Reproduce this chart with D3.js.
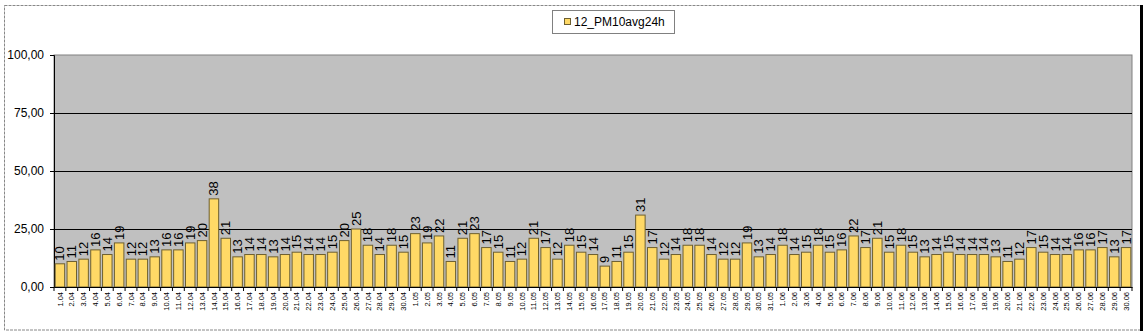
<!DOCTYPE html>
<html><head><meta charset="utf-8">
<script src="https://cdn.jsdelivr.net/npm/d3@7"></script>
<style>
html,body{margin:0;padding:0;background:#fff;}
svg{display:block;font-family:"Liberation Sans",Arial,sans-serif;}
</style></head>
<body><svg id="chart" width="1147" height="336"></svg>
<script>
const seriesName = "12_PM10avg24h";
const days = [
 "1.04","2.04","3.04","4.04","5.04","6.04","7.04","8.04","9.04","10.04","11.04","12.04","13.04","14.04","15.04","16.04","17.04","18.04","19.04","20.04","21.04","22.04","23.04","24.04","25.04","26.04","27.04","28.04","29.04","30.04",
 "1.05","2.05","3.05","4.05","5.05","6.05","7.05","8.05","9.05","10.05","11.05","12.05","13.05","14.05","15.05","16.05","17.05","18.05","19.05","20.05","21.05","22.05","23.05","24.05","25.05","26.05","27.05","28.05","29.05","30.05","31.05",
 "1.06","2.06","3.06","4.06","5.06","6.06","7.06","8.06","9.06","10.06","11.06","12.06","13.06","14.06","15.06","16.06","17.06","18.06","19.06","20.06","21.06","22.06","23.06","24.06","25.06","26.06","27.06","28.06","29.06","30.06"
];
const values = [
 10,11,12,16,14,19,12,12,13,16,16,19,20,38,21,13,14,14,13,14,15,14,14,15,20,25,18,14,18,15,
 23,19,22,11,21,23,17,15,11,12,21,17,12,18,15,14,9,11,15,31,17,12,14,18,18,14,12,12,19,13,14,
 18,14,15,18,15,16,22,17,21,15,18,15,13,14,15,14,14,14,13,11,12,17,15,14,14,16,16,17,13,17
];
const yTicks = [0,25,50,75,100];

const svg = d3.select("#chart");
const plot = {left:54, right:1132, top:55, bottom:287};

// outer frame
svg.append("rect").attr("x",4.5).attr("y",5.5).attr("width",1136).attr("height",324.5)
  .attr("fill","#fff").attr("stroke","#888").attr("stroke-dasharray","3,1").attr("stroke-width",1);
svg.append("line").attr("x1",1141.5).attr("x2",1141.5).attr("y1",5).attr("y2",331)
  .attr("stroke","#000").attr("stroke-width",3);

const x = d3.scaleBand().domain(days).range([plot.left, plot.right]).paddingInner(0.2).paddingOuter(0.1);
const y = d3.scaleLinear().domain([0,100]).range([plot.bottom, plot.top]);

// plot area
svg.append("rect").attr("x",plot.left).attr("y",plot.top).attr("width",plot.right-plot.left)
  .attr("height",plot.bottom-plot.top).attr("fill","#c0c0c0").attr("stroke","#808080");

// gridlines
svg.append("g").selectAll("line").data(yTicks.filter(d=>d>0 && d<100)).join("line")
  .attr("x1",plot.left).attr("x2",plot.right)
  .attr("y1",d=>Math.round(y(d))+0.5).attr("y2",d=>Math.round(y(d))+0.5)
  .attr("stroke","#000").attr("stroke-width",1);

// y axis
const yAxis = d3.axisLeft(y).tickValues(yTicks).tickSize(4).tickPadding(6)
  .tickFormat(d=>d3.format(".2f")(d).replace(".",","));
const gy = svg.append("g").attr("transform",`translate(${plot.left},0)`).call(yAxis);
gy.select(".domain").attr("stroke","#000");
gy.selectAll("text").attr("font-size",12).attr("fill","#000").attr("font-family","Liberation Sans, Arial, sans-serif");

// bars
svg.append("g").selectAll("rect").data(values).join("rect")
  .attr("x",(d,i)=>x(days[i])).attr("width",x.bandwidth())
  .attr("y",d=>y(d)).attr("height",d=>y(0)-y(d))
  .attr("fill","#ffd966").attr("stroke","#6e6030").attr("stroke-width",1);

// x axis
const xAxis = d3.axisBottom(x).tickSize(0).tickPadding(0);
const gx = svg.append("g").attr("transform",`translate(0,${plot.bottom})`).call(xAxis);
gx.select(".domain").attr("stroke","#000");
gx.selectAll("text").attr("font-size",7.5).attr("fill","#000")
  .attr("font-family","Liberation Sans, Arial, sans-serif")
  .attr("text-anchor","end").attr("transform","rotate(-90)")
  .attr("x",-5).attr("y",0).attr("dy","0.35em");

// x boundary tick marks
const step = x.step();
svg.append("g").selectAll("line").data(d3.range(days.length+1)).join("line")
  .attr("x1",i=>plot.left + i*(plot.right-plot.left)/days.length)
  .attr("x2",i=>plot.left + i*(plot.right-plot.left)/days.length)
  .attr("y1",plot.bottom).attr("y2",plot.bottom+4).attr("stroke","#000");

// data labels
svg.append("g").selectAll("text").data(values).join("text")
  .attr("transform",(d,i)=>`translate(${x(days[i])+x.bandwidth()/2},${y(d)-3}) rotate(-90)`)
  .attr("dy","0.35em").attr("font-size",13).attr("fill","#000")
  .text(d=>d3.format(".0f")(d));

// legend
const lg = svg.append("g");
lg.append("rect").attr("x",552.5).attr("y",10.5).attr("width",122).attr("height",23)
  .attr("fill","#fff").attr("stroke","#808080");
lg.append("rect").attr("x",564.5).attr("y",18.5).attr("width",6).attr("height",6)
  .attr("fill","#ffd966").attr("stroke","#6e6030");
lg.append("text").attr("x",574).attr("y",26).attr("font-size",12).attr("fill","#000").text(seriesName);
</script></body></html>
